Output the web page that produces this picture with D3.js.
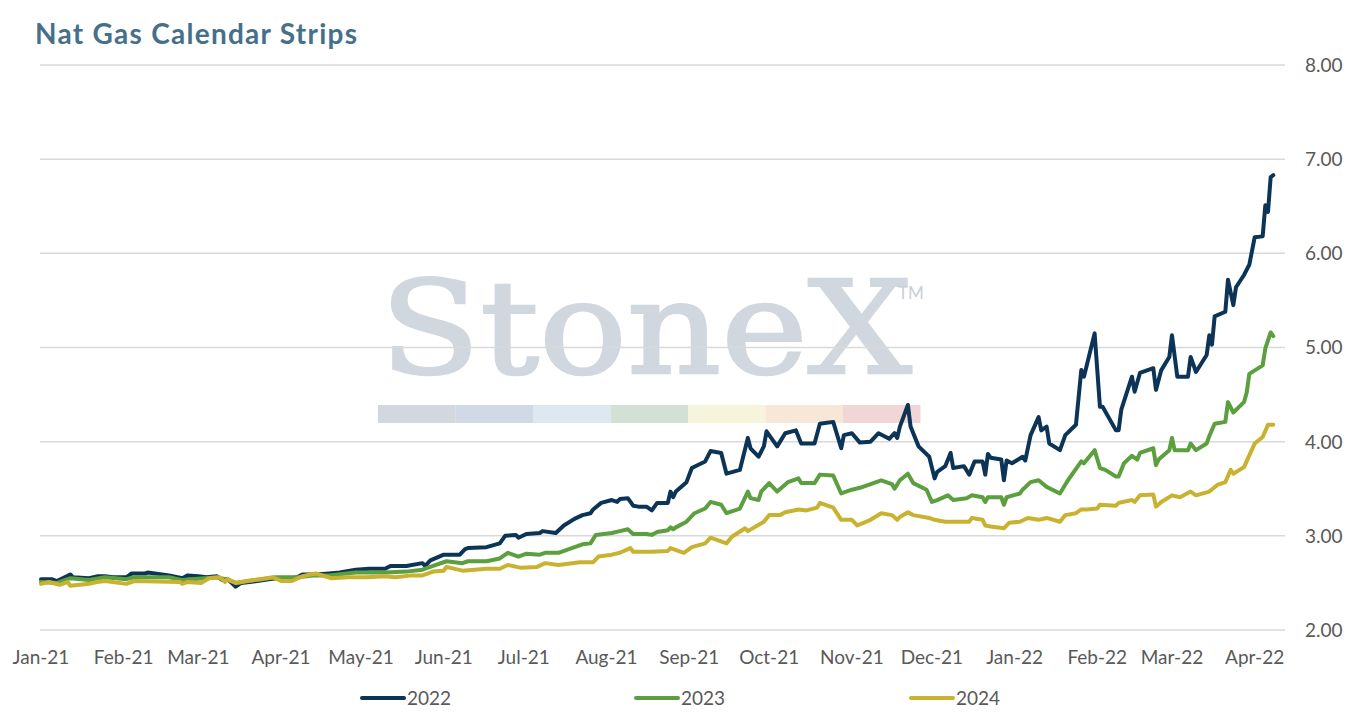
<!DOCTYPE html>
<html>
<head>
<meta charset="utf-8">
<script src="https://cdn.jsdelivr.net/npm/d3@7"></script>
<style>
  body { margin: 0; background: #fff; }
  text { font-family: Lato, "Open Sans", sans-serif; }
</style>
</head>
<body>
<div id="chart"></div>
<script>
// ---- data ----
var yTicks = [2, 3, 4, 5, 6, 7, 8];
var monthTicks = ["2021-01-01", "2021-02-01", "2021-03-01", "2021-04-01", "2021-05-01", "2021-06-01",
  "2021-07-01", "2021-08-01", "2021-09-01", "2021-10-01", "2021-11-01", "2021-12-01",
  "2022-01-01", "2022-02-01", "2022-03-01", "2022-04-01"];
var seriesNames = ["2022", "2023", "2024"];

var dates2022 = ["2021-01-01","2021-01-05","2021-01-07","2021-01-12","2021-01-13","2021-01-19","2021-01-22","2021-01-25","2021-01-28",
  "2021-02-02","2021-02-04","2021-02-09","2021-02-10","2021-02-18","2021-02-23","2021-02-25",
  "2021-03-01","2021-03-04","2021-03-08","2021-03-10","2021-03-12","2021-03-15","2021-03-17","2021-03-23","2021-03-30",
  "2021-04-01","2021-04-07","2021-04-09","2021-04-14","2021-04-19","2021-04-23","2021-04-29",
  "2021-05-04","2021-05-10","2021-05-12","2021-05-18","2021-05-24","2021-05-25","2021-05-27",
  "2021-06-01","2021-06-07","2021-06-09","2021-06-10","2021-06-17","2021-06-22","2021-06-24","2021-06-28","2021-06-29",
  "2021-07-02","2021-07-07","2021-07-08","2021-07-13","2021-07-16","2021-07-20","2021-07-23","2021-07-26","2021-07-27","2021-07-30",
  "2021-08-03","2021-08-05","2021-08-06","2021-08-09","2021-08-11","2021-08-13","2021-08-16","2021-08-18","2021-08-20","2021-08-24","2021-08-25","2021-08-26","2021-08-27","2021-08-31",
  "2021-09-02","2021-09-07","2021-09-09","2021-09-13","2021-09-15","2021-09-20","2021-09-23","2021-09-24","2021-09-27","2021-09-29","2021-09-30",
  "2021-10-04","2021-10-07","2021-10-11","2021-10-13","2021-10-18","2021-10-20","2021-10-25","2021-10-28","2021-10-29",
  "2021-11-01","2021-11-04","2021-11-08","2021-11-11","2021-11-15","2021-11-17","2021-11-18","2021-11-19","2021-11-22","2021-11-23","2021-11-26","2021-11-30",
  "2021-12-02","2021-12-03","2021-12-06","2021-12-08","2021-12-09","2021-12-13","2021-12-15","2021-12-17","2021-12-20","2021-12-21","2021-12-22","2021-12-23","2021-12-27","2021-12-28","2021-12-29","2021-12-31",
  "2022-01-04","2022-01-05","2022-01-07","2022-01-10","2022-01-11","2022-01-13","2022-01-14","2022-01-18","2022-01-20","2022-01-24","2022-01-26","2022-01-27","2022-01-31",
  "2022-02-02","2022-02-03","2022-02-08","2022-02-09","2022-02-10","2022-02-14","2022-02-15","2022-02-17","2022-02-22","2022-02-23","2022-02-25","2022-02-28",
  "2022-03-01","2022-03-03","2022-03-07","2022-03-08","2022-03-10","2022-03-14","2022-03-15","2022-03-16","2022-03-17","2022-03-21","2022-03-22","2022-03-24","2022-03-25","2022-03-28","2022-03-30",
  "2022-04-01","2022-04-04","2022-04-05","2022-04-06","2022-04-07","2022-04-08"];
var strip2022 = [2.54,2.54,2.52,2.59,2.56,2.55,2.57,2.57,2.56,
  2.56,2.60,2.60,2.61,2.58,2.55,2.58,
  2.57,2.56,2.57,2.53,2.54,2.46,2.50,2.52,2.55,
  2.53,2.56,2.59,2.59,2.60,2.61,2.64,
  2.65,2.65,2.68,2.68,2.71,2.68,2.74,
  2.80,2.80,2.86,2.87,2.88,2.92,3.00,3.01,2.98,
  3.02,3.03,3.05,3.03,3.11,3.18,3.22,3.24,3.28,3.35,
  3.38,3.36,3.39,3.40,3.32,3.31,3.31,3.27,3.35,3.35,3.47,3.41,3.47,3.57,
  3.72,3.79,3.90,3.88,3.66,3.70,4.04,3.93,3.84,3.95,4.11,
  3.95,4.09,4.12,3.98,3.98,4.19,4.21,3.93,4.07,
  4.09,3.99,4.00,4.09,4.03,4.09,4.04,4.16,4.39,4.16,3.95,3.84,
  3.61,3.68,3.74,3.88,3.72,3.74,3.65,3.79,3.79,3.65,3.87,3.83,3.81,3.59,3.80,3.77,
  3.84,3.80,4.07,4.26,4.12,4.16,3.98,3.91,4.07,4.18,4.76,4.69,5.15,
  4.37,4.37,4.12,4.12,4.34,4.69,4.53,4.73,4.78,4.55,4.76,4.90,
  5.13,4.69,4.69,4.90,4.74,4.92,5.13,5.03,5.33,5.38,5.72,5.45,5.64,5.77,5.88,
  6.17,6.18,6.51,6.44,6.81,6.83];

var dates2023 = ["2021-01-01","2021-01-07","2021-01-12","2021-01-19","2021-01-25",
  "2021-02-02","2021-02-05","2021-02-18","2021-02-23",
  "2021-03-08","2021-03-11","2021-03-15","2021-03-25","2021-03-30",
  "2021-04-07","2021-04-14","2021-04-19","2021-04-29",
  "2021-05-10","2021-05-18","2021-05-24","2021-05-28",
  "2021-06-02","2021-06-08","2021-06-10","2021-06-17","2021-06-22","2021-06-25","2021-06-29",
  "2021-07-02","2021-07-07","2021-07-09","2021-07-14","2021-07-19","2021-07-23","2021-07-26","2021-07-28",
  "2021-08-03","2021-08-06","2021-08-09","2021-08-11","2021-08-16","2021-08-18","2021-08-20","2021-08-24","2021-08-25","2021-08-26","2021-08-27","2021-08-31",
  "2021-09-03","2021-09-07","2021-09-09","2021-09-13","2021-09-15","2021-09-20","2021-09-23","2021-09-24","2021-09-27","2021-09-28",
  "2021-10-01","2021-10-04","2021-10-08","2021-10-12","2021-10-13","2021-10-18","2021-10-20","2021-10-25","2021-10-28",
  "2021-11-01","2021-11-04","2021-11-12","2021-11-16","2021-11-17","2021-11-19","2021-11-22","2021-11-24","2021-11-29",
  "2021-12-01","2021-12-03","2021-12-07","2021-12-09","2021-12-14","2021-12-16","2021-12-20","2021-12-21","2021-12-22","2021-12-27","2021-12-28","2021-12-29",
  "2022-01-03","2022-01-04","2022-01-07","2022-01-10","2022-01-13","2022-01-18","2022-01-21","2022-01-26","2022-01-27","2022-01-31",
  "2022-02-02","2022-02-04","2022-02-08","2022-02-09","2022-02-11","2022-02-14","2022-02-16","2022-02-17","2022-02-22","2022-02-23","2022-02-24","2022-02-28",
  "2022-03-01","2022-03-02","2022-03-07","2022-03-08","2022-03-10","2022-03-14","2022-03-15","2022-03-17","2022-03-21","2022-03-22","2022-03-24","2022-03-28","2022-03-29","2022-03-30",
  "2022-04-04","2022-04-05","2022-04-07","2022-04-08"];
var strip2023 = [2.51,2.50,2.55,2.53,2.56,
  2.54,2.56,2.56,2.53,
  2.56,2.54,2.50,2.54,2.56,
  2.56,2.58,2.58,2.61,
  2.61,2.62,2.64,2.68,
  2.73,2.71,2.73,2.73,2.76,2.82,2.78,
  2.81,2.80,2.82,2.82,2.87,2.91,2.92,3.01,
  3.03,3.05,3.07,3.02,3.02,3.01,3.04,3.06,3.09,3.07,3.09,3.15,
  3.24,3.29,3.36,3.33,3.24,3.29,3.47,3.40,3.38,3.47,
  3.56,3.47,3.57,3.61,3.56,3.56,3.65,3.64,3.45,
  3.49,3.51,3.59,3.55,3.50,3.59,3.66,3.56,3.49,
  3.36,3.38,3.43,3.38,3.40,3.43,3.41,3.36,3.41,3.41,3.33,3.41,
  3.45,3.49,3.57,3.59,3.52,3.45,3.59,3.79,3.77,3.91,
  3.72,3.70,3.63,3.63,3.77,3.85,3.81,3.88,3.93,3.75,3.81,3.91,
  4.04,3.91,3.91,3.98,3.91,3.98,4.06,4.19,4.21,4.42,4.31,4.42,4.52,4.72,
  4.81,4.99,5.16,5.12];

var dates2024 = ["2021-01-01","2021-01-04","2021-01-08","2021-01-11","2021-01-12","2021-01-19","2021-01-22","2021-01-25",
  "2021-02-02","2021-02-05","2021-02-22","2021-02-23","2021-02-25",
  "2021-03-02","2021-03-05","2021-03-09","2021-03-11","2021-03-12","2021-03-15","2021-03-19","2021-03-29",
  "2021-04-01","2021-04-05","2021-04-09","2021-04-14","2021-04-20","2021-04-26",
  "2021-05-03","2021-05-10","2021-05-14","2021-05-20","2021-05-24","2021-05-28",
  "2021-06-01","2021-06-02","2021-06-08","2021-06-17","2021-06-22","2021-06-25","2021-06-30",
  "2021-07-06","2021-07-09","2021-07-14","2021-07-22","2021-07-27","2021-07-29",
  "2021-08-03","2021-08-06","2021-08-10","2021-08-11","2021-08-18","2021-08-24","2021-08-25","2021-08-30",
  "2021-09-02","2021-09-07","2021-09-09","2021-09-15","2021-09-17","2021-09-22","2021-09-23","2021-09-29",
  "2021-10-01","2021-10-05","2021-10-07","2021-10-12","2021-10-15","2021-10-19","2021-10-20","2021-10-25","2021-10-28",
  "2021-11-01","2021-11-03","2021-11-08","2021-11-12","2021-11-16","2021-11-18","2021-11-19","2021-11-22","2021-11-24","2021-11-30",
  "2021-12-02","2021-12-06","2021-12-09","2021-12-15","2021-12-16","2021-12-20","2021-12-21","2021-12-23","2021-12-28","2021-12-30",
  "2022-01-03","2022-01-06","2022-01-10","2022-01-13","2022-01-18","2022-01-20","2022-01-24","2022-01-26","2022-01-28",
  "2022-02-01","2022-02-02","2022-02-08","2022-02-09","2022-02-14","2022-02-15","2022-02-17","2022-02-22","2022-02-23","2022-02-25",
  "2022-03-01","2022-03-04","2022-03-08","2022-03-10","2022-03-15","2022-03-18","2022-03-21","2022-03-23","2022-03-24","2022-03-28",
  "2022-04-01","2022-04-04","2022-04-06","2022-04-08"];
var strip2024 = [2.49,2.51,2.48,2.51,2.47,2.49,2.51,2.52,
  2.49,2.52,2.51,2.49,2.51,
  2.50,2.55,2.56,2.51,2.54,2.50,2.52,2.56,
  2.52,2.52,2.57,2.60,2.55,2.56,
  2.56,2.57,2.56,2.58,2.58,2.62,
  2.63,2.67,2.63,2.65,2.65,2.69,2.66,
  2.67,2.71,2.69,2.72,2.72,2.78,
  2.80,2.82,2.87,2.83,2.83,2.84,2.87,2.82,
  2.88,2.92,2.98,2.92,2.99,3.08,3.05,3.15,
  3.22,3.22,3.25,3.28,3.27,3.30,3.35,3.30,3.17,
  3.17,3.11,3.17,3.24,3.22,3.17,3.20,3.25,3.22,3.19,
  3.17,3.15,3.15,3.15,3.19,3.17,3.11,3.10,3.08,3.14,
  3.15,3.19,3.17,3.19,3.15,3.22,3.24,3.28,3.28,
  3.29,3.33,3.32,3.35,3.38,3.36,3.43,3.44,3.31,3.36,
  3.43,3.41,3.47,3.43,3.47,3.54,3.57,3.70,3.66,3.73,
  3.98,4.05,4.18,4.18];

// ---- styles ----
var lineColors = ["#0c3456", "#5b9f3e", "#c8b230"];
var stripeColors = ["#d3d8df", "#d0d9e5", "#dde8f1", "#d2e0d5", "#f7f4dc", "#f8e6d6", "#f1d6d7"];

var svgWidth = 1351;
var svgHeight = 720;
var plot = { left: 40, right: 1285, top: 65, bottom: 630 };

var svg = d3.select("#chart")
  .append("svg")
  .attr("width", svgWidth)
  .attr("height", svgHeight);

var parseDate = d3.timeParse("%Y-%m-%d");

var xScale = d3.scaleTime()
  .domain([parseDate("2021-01-01"), parseDate("2022-04-12")])
  .range([41, 1284]);

var yScale = d3.scaleLinear()
  .domain([2, 8])
  .range([plot.bottom, plot.top]);

// watermark
var mark = svg.append("g");
mark.append("text")
  .attr("x", 380)
  .attr("y", 373)
  .attr("textLength", 532)
  .attr("lengthAdjust", "spacingAndGlyphs")
  .style("font-family", "'DejaVu Serif', 'Liberation Serif', serif")
  .style("font-size", "130px")
  .attr("fill", "#d0d7df")
  .attr("stroke", "#d0d7df")
  .attr("stroke-width", 2.5)
  .text("StoneX");
mark.append("text")
  .attr("x", 898)
  .attr("y", 299)
  .style("font-size", "17px")
  .attr("fill", "#c9ced5")
  .text("TM");
mark.selectAll("rect")
  .data(stripeColors)
  .enter()
  .append("rect")
  .attr("x", (d, i) => 378 + i * 77.5)
  .attr("y", 405)
  .attr("width", 77.5)
  .attr("height", 18)
  .attr("fill", d => d);

// title
svg.append("text")
  .attr("x", 35)
  .attr("y", 44)
  .attr("textLength", 322)
  .style("font-size", "28px")
  .style("font-weight", "bold")
  .attr("fill", "#46708a")
  .text("Nat Gas Calendar Strips");

// gridlines
svg.append("g")
  .selectAll("line")
  .data(yTicks)
  .enter()
  .append("line")
  .attr("x1", plot.left)
  .attr("x2", plot.right)
  .attr("y1", d => yScale(d))
  .attr("y2", d => yScale(d))
  .attr("stroke", "#d9d9d9")
  .attr("stroke-width", 1.5);

// right axis labels
svg.append("g")
  .selectAll("text")
  .data(yTicks)
  .enter()
  .append("text")
  .attr("x", 1305)
  .attr("y", d => yScale(d))
  .attr("dy", "0.36em")
  .style("font-size", "19px")
  .attr("fill", "#595959")
  .text(d3.format(".2f"));

// bottom month labels
var fmtMonth = d3.timeFormat("%b-%y");
svg.append("g")
  .selectAll("text")
  .data(monthTicks.map(parseDate))
  .enter()
  .append("text")
  .attr("x", d => xScale(d))
  .attr("y", 664)
  .attr("text-anchor", "middle")
  .style("font-size", "19px")
  .attr("fill", "#595959")
  .text(fmtMonth);

// lines
var series = [
  { name: seriesNames[0], dates: dates2022, values: strip2022 },
  { name: seriesNames[1], dates: dates2023, values: strip2023 },
  { name: seriesNames[2], dates: dates2024, values: strip2024 }
];

var line = d3.line()
  .x(d => xScale(d.date))
  .y(d => yScale(d.value));

series.forEach(function(s, i) {
  var pts = s.dates.map((d, j) => ({ date: parseDate(d), value: s.values[j] }));
  svg.append("path")
    .datum(pts)
    .attr("d", line)
    .attr("fill", "none")
    .attr("stroke", lineColors[i])
    .attr("stroke-width", 4)
    .attr("stroke-linejoin", "round")
    .attr("stroke-linecap", "round");
});

// legend
var legendX = [362, 636, 911];
var legend = svg.append("g")
  .selectAll("g")
  .data(seriesNames)
  .enter()
  .append("g")
  .attr("transform", (d, i) => `translate(${legendX[i]}, 698)`);
legend.append("line")
  .attr("x1", 0)
  .attr("x2", 42)
  .attr("stroke", (d, i) => lineColors[i])
  .attr("stroke-width", 4)
  .attr("stroke-linecap", "round");
legend.append("text")
  .attr("x", 45)
  .attr("dy", "0.36em")
  .style("font-size", "19px")
  .attr("fill", "#595959")
  .text(d => d);
</script>
</body>
</html>
